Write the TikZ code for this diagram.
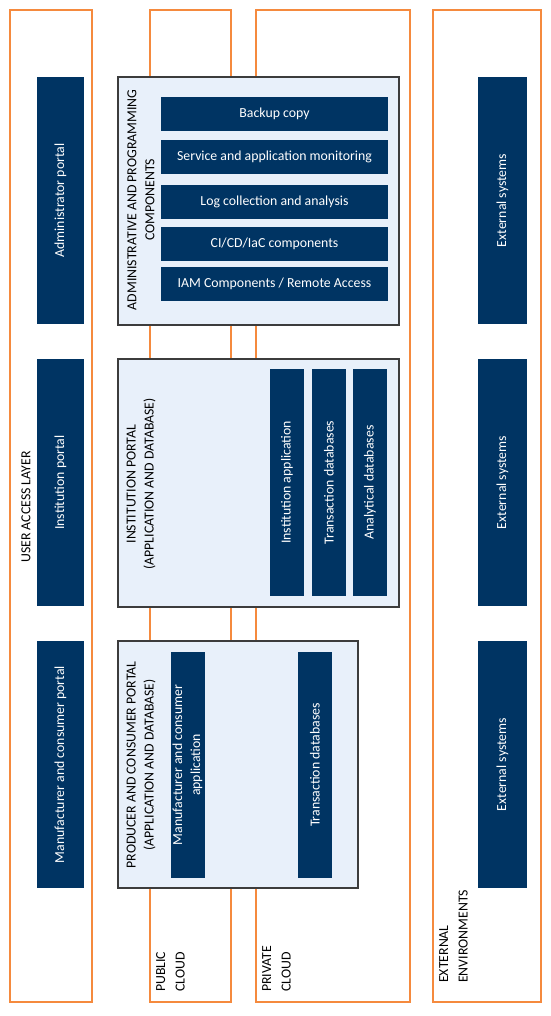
\documentclass[tikz,border=0pt]{standalone}
\usepackage{fontspec}
\setmainfont{Carlito}
\definecolor{frameor}{HTML}{F58A3E}
\definecolor{darkbar}{HTML}{003463}
\definecolor{lightfill}{HTML}{E8F0FA}
\definecolor{boxline}{HTML}{3C3C3C}
\begin{document}
\begin{tikzpicture}[x=1pt,y=-1pt,
  every node/.style={font=\fontsize{13.8}{18}\selectfont, inner sep=0pt},
  zone/.style={draw=frameor, line width=2pt, rectangle},
  group/.style={draw=boxline, line width=1.3pt, fill=lightfill, rectangle},
  bar/.style={fill=darkbar, text=white, rectangle, align=center},
  vbar/.style={bar, rotate=90},
  caplabel/.style={text=black, rotate=90, align=center},
  zonelabel/.style={text=black, rotate=90, align=left, anchor=north west, font=\fontsize{13.8}{19.5}\selectfont}]
\useasboundingbox (0,0) rectangle (550,1016);
% zones
\node[zone, minimum width=82, minimum height=992] (ual) at (51,506) {};
\node[zone, minimum width=81, minimum height=992] (pub) at (190.5,506) {};
\node[zone, minimum width=154, minimum height=992] (priv) at (333,506) {};
\node[zone, minimum width=108, minimum height=992] (ext) at (487,506) {};
% user access layer
\node[caplabel] (uallab) at (26,507) {USER ACCESS LAYER};
\node[vbar, minimum width=247, minimum height=47] (adminp) at (60.5,200.5) {Administrator portal};
\node[vbar, minimum width=247, minimum height=47] (instp) at (60.5,482.5) {Institution portal};
\node[vbar, minimum width=247, minimum height=47] (manp) at (60.5,764.5) {Manufacturer and consumer portal};
% external systems
\node[vbar, minimum width=247, minimum height=49] (ext1) at (502.5,200.5) {External systems};
\node[vbar, minimum width=247, minimum height=49] (ext2) at (502.5,482.5) {External systems};
\node[vbar, minimum width=247, minimum height=49] (ext3) at (502.5,764.5) {External systems};
% administrative box
\node[group, minimum width=281, minimum height=248] (adm) at (258.5,201) {};
\node[caplabel] (admlab) at (141,200) {ADMINISTRATIVE AND PROGRAMMING\\COMPONENTS};
\node[bar, minimum width=227, minimum height=34] (b1) at (274.5,114) {Backup copy};
\node[bar, minimum width=227, minimum height=34] (b2) at (274.5,157) {Service and application monitoring};
\node[bar, minimum width=227, minimum height=34] (b3) at (274.5,202) {Log collection and analysis};
\node[bar, minimum width=227, minimum height=34] (b4) at (274.5,244) {CI/CD/IaC components};
\node[bar, minimum width=227, minimum height=34] (b5) at (274.5,284) {IAM Components / Remote Access};
% institution box
\node[group, minimum width=281, minimum height=248] (inst) at (258.5,483) {};
\node[caplabel] (instlab) at (141,484) {INSTITUTION PORTAL\\(APPLICATION AND DATABASE)};
\node[vbar, minimum width=227, minimum height=34] (ia) at (287,482.5) {Institution application};
\node[vbar, minimum width=227, minimum height=34] (itd) at (329,482.5) {Transaction databases};
\node[vbar, minimum width=227, minimum height=34] (iad) at (370,482.5) {Analytical databases};
% producer box
\node[group, minimum width=240, minimum height=247] (prod) at (238,764.5) {};
\node[caplabel] (prodlab) at (141,765) {PRODUCER AND CONSUMER PORTAL\\(APPLICATION AND DATABASE)};
\node[vbar, minimum width=226, minimum height=34] (pa) at (187.5,765) {Manufacturer and consumer\\application};
\node[vbar, minimum width=226, minimum height=34] (ptd) at (315,765) {Transaction databases};
% zone labels
\node[zonelabel] (publab) at (156,992) {PUBLIC\\CLOUD};
\node[zonelabel] (privlab) at (262,992) {PRIVATE\\CLOUD};
\node[zonelabel] (extlab) at (439,983) {EXTERNAL\\ENVIRONMENTS};
\end{tikzpicture}
\end{document}
